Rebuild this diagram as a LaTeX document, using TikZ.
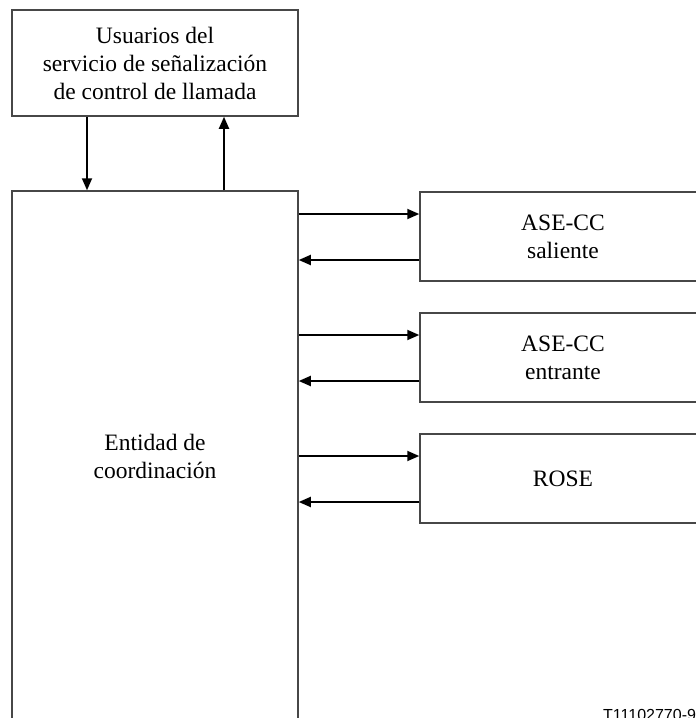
\documentclass[tikz,border=0pt]{standalone}
\usepackage{fontspec}
\setmainfont{Liberation Serif}
\newfontfamily\labelfont{Liberation Sans}
\usetikzlibrary{arrows.meta}
\begin{document}
\begin{tikzpicture}[x=1pt,y=-1pt,
  box/.style={draw=black!72,line width=1.5pt,minimum width=286pt,inner sep=0pt,
    align=center,font=\fontsize{23.5}{28}\selectfont},
  arr/.style={draw=black,line width=1.8pt,-{Triangle[length=12pt,width=10pt]}}]
\useasboundingbox (0,0) rectangle (696,718);
\clip (0,0) rectangle (696,718);
% call-control signalling service users
\node[box,minimum height=106pt] (users) at (155,63)
  {Usuarios del\\servicio de señalización\\de control de llamada};
% coordinating entity (runs off the bottom edge)
\node[box,minimum height=530pt] (coord) at (155,456)
  {Entidad de\\coordinación};
% service elements (run off the right edge)
\node[box,minimum height=89pt] (out) at (563,236.5) {ASE-CC\\saliente};
\node[box,minimum height=89pt] (in) at (563,357.5) {ASE-CC\\entrante};
\node[box,minimum height=89pt] (rose) at (563,478.5) {ROSE};
% vertical links
\coordinate (dn) at ([xshift=-68pt]users.south);
\coordinate (up) at ([xshift=69pt]users.south);
\draw[arr] (dn) -- (dn |- coord.north);
\draw[arr] (up |- coord.north) -- (up);
% horizontal links
\foreach \b in {out,in,rose}{
  \coordinate (\b-req) at ([yshift=22.5pt]\b.west);
  \coordinate (\b-rsp) at ([yshift=-23.5pt]\b.west);
  \draw[arr] (coord.east |- \b-req) -- (\b-req);
  \draw[arr] (\b-rsp) -- (coord.east |- \b-rsp);
}
\node[anchor=north west,inner sep=0pt,font=\labelfont\fontsize{16}{18}\selectfont] (tag) at (603,709) {T11102770-99};
\end{tikzpicture}
\end{document}
